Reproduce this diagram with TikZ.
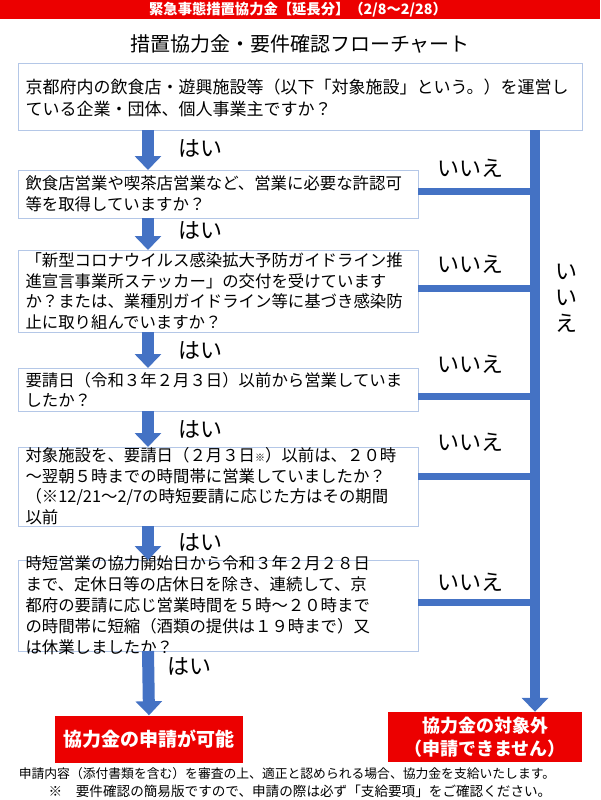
\documentclass[tikz,border=0pt]{standalone}
\usepackage{fontspec}
\setmainfont{Noto Sans CJK JP}
\usetikzlibrary{arrows.meta}
\definecolor{fred}{RGB}{236,0,0}
\definecolor{fblue}{RGB}{68,114,196}
\definecolor{fborder}{RGB}{180,199,231}
\begin{document}
\begin{tikzpicture}[x=1pt,y=-1pt,
  yes/.style={font=\fontsize{22}{22}\selectfont},
  flow/.style={fblue,line width=12pt,-{Triangle[width=26pt,length=14pt]}},
  nob/.style={fblue,line width=7pt},
  res/.style={fill=fred,text=white,align=center,font=\fontsize{19}{24}\selectfont\bfseries}]
\useasboundingbox (0,0) rectangle (600,800);
\fill[fred] (0,0) rectangle (600,19);
\node[text=white,font=\fontsize{14.3}{15}\selectfont\bfseries] (title) at (298,9.5) {緊急事態措置協力金【延長分】（2/8～2/28）};
\node[font=\fontsize{20}{21}\selectfont] (sub) at (300,44) {措置協力金・要件確認フローチャート};
% boxes
\draw[fborder,line width=1pt,fill=white] (18,64) rectangle (582,130);
\node[anchor=west,align=left,font=\fontsize{17}{22}\selectfont] (b1) at (22,98) {京都府内の飲食店・遊興施設等（以下「対象施設」という。）を運営し\\ている企業・団体、個人事業主ですか？};
\draw[fborder,line width=1pt,fill=white] (18,170) rectangle (418,218);
\node[anchor=west,align=left,font=\fontsize{16.4}{21}\selectfont] (b2) at (22,194) {飲食店営業や喫茶店営業など、営業に必要な許認可\\等を取得していますか？};
\draw[fborder,line width=1pt,fill=white] (18,250) rectangle (418,332);
\node[anchor=west,align=left,font=\fontsize{16.4}{20.5}\selectfont] (b3) at (22,291) {「新型コロナウイルス感染拡大予防ガイドライン推\\進宣言事業所ステッカー」の交付を受けています\\か？または、業種別ガイドライン等に基づき感染防\\止に取り組んでいますか？};
\draw[fborder,line width=1pt,fill=white] (18,368) rectangle (418,411);
\node[anchor=west,align=left,font=\fontsize{16.4}{20.5}\selectfont] (b4) at (22,390) {要請日（令和３年２月３日）以前から営業していま\\したか？};
\draw[fborder,line width=1pt,fill=white] (18,447) rectangle (418,526);
\node[anchor=west,align=left,font=\fontsize{16.4}{20.5}\selectfont] (b5) at (22,486) {対象施設を、要請日（２月３日{\fontsize{10}{10}\selectfont ※}）以前は、２０時\\～翌朝５時までの時間帯に営業していましたか？\\（※12/21～2/7の時短要請に応じた方はその期間\\以前};
\draw[fborder,line width=1pt,fill=white] (18,560) rectangle (418,651);
\node[anchor=west,align=left,font=\fontsize{16.4}{21}\selectfont] (b6) at (22,605) {時短営業の協力開始日から令和３年２月２８日\\まで、定休日等の店休日を除き、連続して、京\\都府の要請に応じ営業時間を５時～２０時まで\\の時間帯に短縮（酒類の提供は１９時まで）又\\は休業しましたか？};
% results
\node[res,minimum width=188pt,minimum height=47pt] (ok) at (149,739) {協力金の申請が可能};
\node[res,minimum width=194pt,minimum height=50pt,font=\fontsize{18}{23}\selectfont\bfseries] (ng) at (485,737) {協力金の対象外\\（申請できません）};
% yes arrows
\draw[flow] (148,130) -- (148,170);
\draw[flow] (148,218) -- (148,250);
\draw[flow] (148,332) -- (148,368);
\draw[flow] (148,411) -- (148,447);
\draw[flow] (148,526) -- (148,560);
\draw[flow] (148,651) -- (ok.north);
\node[yes] (y1) at (200,148) {はい};
\node[yes] (y2) at (200,230) {はい};
\node[yes] (y3) at (200,350) {はい};
\node[yes] (y4) at (200,429) {はい};
\node[yes] (y5) at (200,542) {はい};
\node[yes] (y6) at (189,666) {はい};
% no trunk
\coordinate (tt) at (535,130);
\draw[fblue,line width=10pt,-{Triangle[width=26pt,length=14pt]}] (tt) -- (ng.north -| tt);
\draw[nob] (418,191) -- (531,191);
\draw[nob] (418,288) -- (531,288);
\draw[nob] (418,396) -- (531,396);
\draw[nob] (418,476) -- (531,476);
\draw[nob] (418,602) -- (531,602);
\node[yes] (n1) at (470,168) {いいえ};
\node[yes] (n2) at (470,264) {いいえ};
\node[yes] (n3) at (470,364) {いいえ};
\node[yes] (n4) at (470,442) {いいえ};
\node[yes] (n5) at (470,582) {いいえ};
\node[yes,align=center,font=\fontsize{22}{26}\selectfont] (nv) at (566,298) {い\\い\\え};
% notes
\node[font=\fontsize{12.8}{13}\selectfont] (note1) at (287,774) {申請内容（添付書類を含む）を審査の上、適正と認められる場合、協力金を支給いたします。};
\node[font=\fontsize{13.6}{14}\selectfont] (note2) at (300,791) {※\quad 要件確認の簡易版ですので、申請の際は必ず「支給要項」をご確認ください。};
\end{tikzpicture}
\end{document}
